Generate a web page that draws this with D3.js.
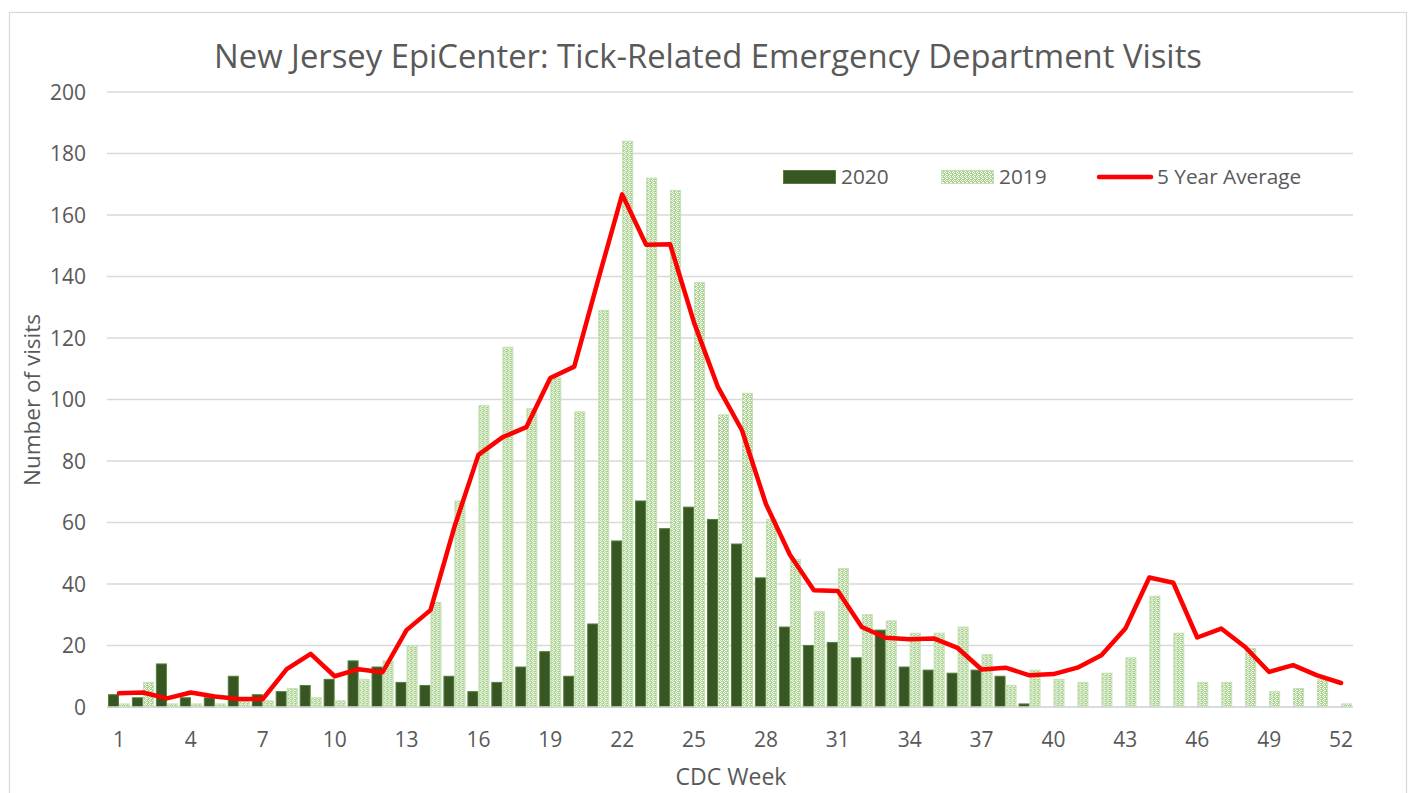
<!DOCTYPE html>
<html>
<head>
<meta charset="utf-8">
<script src="https://cdn.jsdelivr.net/npm/d3@7/dist/d3.min.js"></script>
<style>
  html, body { margin: 0; padding: 0; background: #fff; }
  svg { display: block; font-family: "Open Sans", "Noto Sans", sans-serif; }
</style>
</head>
<body>
<svg id="chart" width="1411" height="793"></svg>
<script>
const weeks = d3.range(1, 53);
const series2020 = [4,3,14,3,3,10,4,5,7,9,15,13,8,7,10,5,8,13,18,10,27,54,67,58,65,61,53,42,26,20,21,16,25,13,12,11,12,10,1,
  null,null,null,null,null,null,null,null,null,null,null,null,null];
const series2019 = [1,8,1,1,1,2,2,6,3,2,9,15,20,34,67,98,117,97,107,96,129,184,172,168,138,95,102,61,48,31,45,30,28,24,24,26,17,7,12,
  9,8,11,16,36,24,8,8,19,5,6,9,1];
const avg5 = [4.5,4.7,2.8,4.7,3.4,2.6,2.6,12.3,17.3,10,12.3,11.3,25,31.5,58.6,82,87.7,91,107,110.7,139,166.7,150.3,150.5,
  125,104,90,66,49.5,38,37.7,26,22.5,22,22.3,19.2,12.2,12.8,10.3,10.7,12.8,16.8,25.5,42.1,40.4,22.6,25.5,19.5,11.4,13.6,10.3,7.8];
const yTicks = d3.range(0, 201, 20);
const xTickLabels = [1,4,7,10,13,16,19,22,25,28,31,34,37,40,43,46,49,52];
const seriesNames = ["2020", "2019"];

const svg = d3.select("#chart");
const defs = svg.append("defs");
const pat = defs.append("pattern").attr("id", "check").attr("patternUnits", "userSpaceOnUse")
  .attr("width", 4).attr("height", 4);
pat.append("rect").attr("width", 4).attr("height", 4).attr("fill", "#A9D18E");
pat.append("rect").attr("x", 0).attr("y", 0).attr("width", 1).attr("height", 1).attr("fill", "#ffffff");
pat.append("rect").attr("x", 2).attr("y", 0).attr("width", 1).attr("height", 1).attr("fill", "#ffffff");
pat.append("rect").attr("x", 1).attr("y", 1).attr("width", 1).attr("height", 1).attr("fill", "#ffffff");
pat.append("rect").attr("x", 3).attr("y", 2).attr("width", 1).attr("height", 1).attr("fill", "#ffffff");
pat.append("rect").attr("x", 1).attr("y", 3).attr("width", 1).attr("height", 1).attr("fill", "#ffffff");
pat.append("rect").attr("x", 2).attr("y", 2).attr("width", 1).attr("height", 1).attr("fill", "#ffffff");

// chart border
svg.append("rect").attr("x", 9.5).attr("y", 12.5).attr("width", 1397).attr("height", 800)
  .attr("fill", "none").attr("stroke", "#D9D9D9").attr("stroke-width", 1.3);

const x = d3.scaleBand().domain(weeks).range([107, 1353]).paddingInner(0.08).paddingOuter(0.04);
const x1 = d3.scaleBand().domain(seriesNames).range([0, x.bandwidth()]);
const y = d3.scaleLinear().domain([0, 200]).range([707, 92]);

// gridlines
svg.append("g").selectAll("line").data(yTicks).join("line")
  .attr("x1", 107).attr("x2", 1353)
  .attr("y1", d => y(d)).attr("y2", d => y(d))
  .attr("stroke", "#D9D9D9").attr("stroke-width", 1.5);

// y tick labels
svg.append("g").selectAll("text").data(yTicks).join("text")
  .attr("x", 86).attr("y", d => y(d)).attr("dy", "0.36em")
  .attr("text-anchor", "end").attr("font-size", 21).attr("fill", "#595959")
  .text(d => d);

// bars
const groups = svg.append("g").selectAll("g").data(weeks).join("g")
  .attr("transform", d => `translate(${x(d)},0)`);
groups.append("rect")
  .filter((d, i) => series2020[i] != null)
  .attr("x", x1("2020") + 0.5).attr("width", x1.bandwidth() - 1)
  .attr("y", (d) => y(series2020[d - 1]))
  .attr("height", (d) => y(0) - y(series2020[d - 1]))
  .attr("fill", "#375623").attr("stroke", "#548235").attr("stroke-width", 1);
groups.append("rect")
  .attr("x", x1("2019") + 0.5).attr("width", x1.bandwidth() - 1)
  .attr("y", (d) => y(series2019[d - 1]))
  .attr("height", (d) => y(0) - y(series2019[d - 1]))
  .attr("fill", "url(#check)").attr("stroke", "#C5E0B4").attr("stroke-width", 1);

// baseline
svg.append("line").attr("x1", 107).attr("x2", 1353).attr("y1", y(0)).attr("y2", y(0))
  .attr("stroke", "#D9D9D9").attr("stroke-width", 1.5);

// 5 year average line
const line = d3.line().x((d, i) => x(weeks[i]) + x.bandwidth() / 2).y(d => y(d));
svg.append("path").datum(avg5).attr("d", line)
  .attr("fill", "none").attr("stroke", "#FF0000").attr("stroke-width", 4.5)
  .attr("stroke-linejoin", "round").attr("stroke-linecap", "round");

// x tick labels
svg.append("g").selectAll("text").data(xTickLabels).join("text")
  .attr("x", d => x(d) + x.bandwidth() / 2).attr("y", 747)
  .attr("text-anchor", "middle").attr("font-size", 21).attr("fill", "#595959")
  .text(d => d);

// axis titles
svg.append("text").attr("x", 731).attr("y", 785).attr("text-anchor", "middle")
  .attr("font-size", 23).attr("fill", "#595959").text("CDC Week");
svg.append("text").attr("transform", "translate(40,400) rotate(-90)").attr("text-anchor", "middle")
  .attr("font-size", 22.5).attr("fill", "#595959").text("Number of visits");

// title
svg.append("text").attr("x", 708).attr("y", 68).attr("text-anchor", "middle")
  .attr("font-size", 32.8).attr("fill", "#595959")
  .text("New Jersey EpiCenter: Tick-Related Emergency Department Visits");

// legend
const leg = svg.append("g");
leg.append("rect").attr("x", 783.5).attr("y", 170.5).attr("width", 52).attr("height", 13)
  .attr("fill", "#375623").attr("stroke", "#548235");
leg.append("text").attr("x", 841).attr("y", 184).attr("font-size", 20.8).attr("fill", "#595959").text(seriesNames[0]);
leg.append("rect").attr("x", 941.5).attr("y", 170.5).attr("width", 52).attr("height", 13)
  .attr("fill", "url(#check)").attr("stroke", "#C5E0B4");
leg.append("text").attr("x", 999).attr("y", 184).attr("font-size", 20.8).attr("fill", "#595959").text(seriesNames[1]);
leg.append("line").attr("x1", 1099).attr("x2", 1151).attr("y1", 177).attr("y2", 177)
  .attr("stroke", "#FF0000").attr("stroke-width", 4.5).attr("stroke-linecap", "round");
leg.append("text").attr("x", 1157).attr("y", 184).attr("font-size", 20.8).attr("fill", "#595959").text("5 Year Average");
</script>
</body>
</html>
